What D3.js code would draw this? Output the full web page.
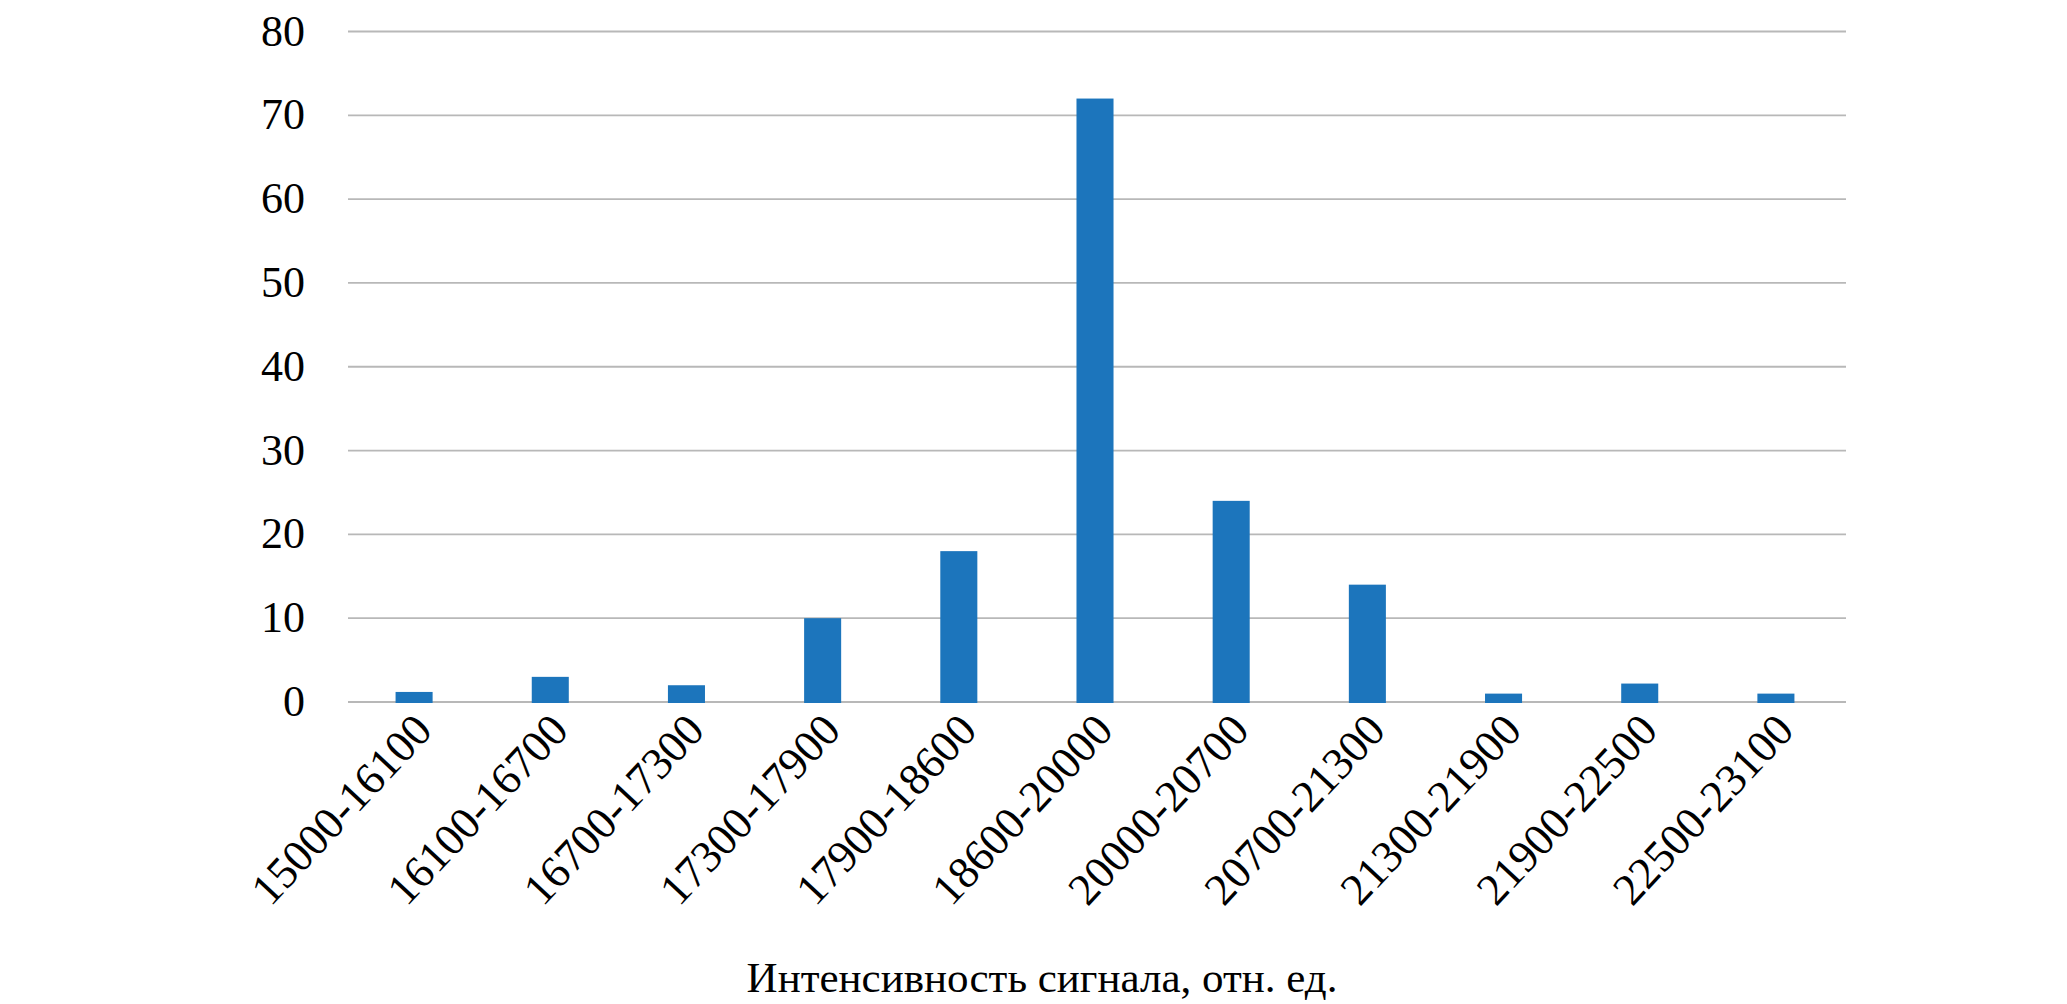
<!DOCTYPE html>
<meta charset="utf-8">
<style>
    body { margin: 0; background: #fff; }
    text { font-family: "Liberation Serif", "Times New Roman", serif; fill: #000; }
    .grid line { stroke: #b8b8b8; stroke-width: 1.8px; }
    .ylab { font-size: 44px; text-anchor: end; }
    .xlab { font-size: 45px; text-anchor: end; }
    .title { font-size: 43px; text-anchor: middle; }
</style>
<body>
<script src="https://d3js.org/d3.v7.min.js"></script>
<script>
    var categories = ["15000-16100", "16100-16700", "16700-17300", "17300-17900", "17900-18600",
        "18600-20000", "20000-20700", "20700-21300", "21300-21900", "21900-22500", "22500-23100"];
    var counts = [1.2, 3, 2, 10, 18, 72, 24, 14, 1, 2.2, 1];
    var yTicks = [0, 10, 20, 30, 40, 50, 60, 70, 80];
    var xTitle = "Интенсивность сигнала, отн. ед.";

    var W = 2067, H = 1004;
    var plotLeft = 348, plotRight = 1846, plotTop = 31.5, plotBottom = 702;

    var svg = d3.select("body").append("svg").attr("width", W).attr("height", H);

    var x = d3.scaleBand().domain(categories).range([plotLeft, plotRight]).paddingInner(0.728).paddingOuter(0.364);
    var y = d3.scaleLinear().domain([0, 80]).range([plotBottom, plotTop]);

    // gridlines
    svg.append("g").attr("class", "grid")
        .selectAll("line").data(yTicks).enter().append("line")
        .attr("x1", plotLeft).attr("x2", plotRight)
        .attr("y1", d => y(d)).attr("y2", d => y(d));

    svg.append("g").selectAll("text").data(yTicks).enter().append("text")
        .attr("class", "ylab")
        .attr("x", plotLeft - 43)
        .attr("y", d => y(d) + 14)
        .text(d => d);

    // bars
    svg.append("g").selectAll("rect").data(categories).enter().append("rect")
        .attr("x", d => x(d) - 2)
        .attr("width", x.bandwidth())
        .attr("y", (d, i) => y(counts[i]))
        .attr("height", (d, i) => y(0) - y(counts[i]) + 1)
        .attr("fill", "#1c75bc");

    // rotated category labels
    svg.append("g").selectAll("text").data(categories).enter().append("text")
        .attr("class", "xlab")
        .attr("transform", d => "translate(" + (x(d) + x.bandwidth() / 2 + 18) + "," + 732 + ") rotate(-47)")
        .text(d => d);

    svg.append("text").attr("class", "title")
        .attr("x", 1042).attr("y", 992)
        .text(xTitle);
</script>
</body>
